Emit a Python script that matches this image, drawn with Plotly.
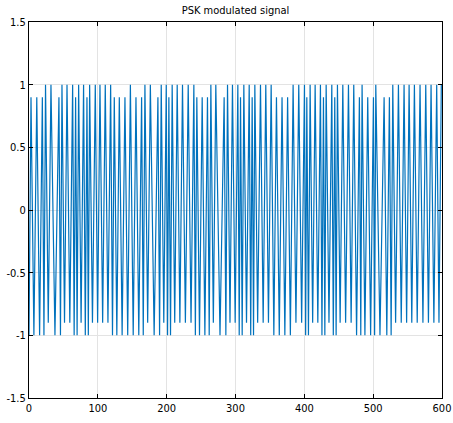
"""
PSK modulated signal - recriação do gráfico estilo MATLAB com Plotly.
"""

import plotly.graph_objects as go

# Picos superiores (posição, nível)
top_x = [2.9, 11.3, 19.4, 24.0, 31.9, 43.5, 47.9, 55.2, 63.4, 67.7, 72.1, 79.3,
         84.2, 88.1, 96.3, 103.1, 110.8, 118.6, 123.9, 131.2, 139.4, 147.3, 155.4,
         163.6, 168.4, 176.3, 187.3, 192.1, 199.4, 203.2, 208.0, 215.3, 223.0,
         231.3, 239.5, 243.8, 251.6, 259.3, 264.2, 271.4, 283.5, 288.4, 295.6,
         303.4, 307.3, 312.1, 319.9, 324.2, 328.1, 336.3, 344.0, 351.8, 359.5, 367.6,
         375.7, 383.7, 391.9, 400.2, 403.6, 408.4, 415.7, 423.4, 427.8, 431.7, 439.9,
         444.2, 448.1, 455.9, 464.1, 471.8, 480.0, 483.9, 492.1, 500.4, 503.8,
         515.9, 523.6, 528.5, 536.7, 544.9, 552.2, 559.9, 568.1, 576.4, 584.1, 592.3,
         599.0]
top_y = [0.9, 0.9, 0.9, 1, 1, 0.9, 1, 1, 1, 0.9, 1, 1,
         0.9, 1, 1, 1, 1, 1, 0.9, 0.9, 0.9, 1, 0.9,
         0.9, 1, 1, 0.9, 1, 1, 0.9, 1, 1, 1,
         1, 1, 0.9, 0.9, 0.9, 1, 1, 0.9, 1, 1,
         1, 0.9, 1, 1, 0.9, 1, 1, 1, 1, 0.9, 0.9,
         0.9, 1, 1, 1, 0.9, 1, 1, 1, 0.9, 1, 1,
         0.9, 1, 1, 1, 1, 0.9, 1, 0.9, 0.9, 1,
         0.9, 0.9, 1, 1, 1, 1, 1, 1, 1, 1, 1,
         1]

# Vales inferiores (posição, nível)
bottom_x = [0.0, 7.1, 15.4, 21.7, 28.0, 37.7, 45.7, 51.6, 59.3, 65.6, 69.9, 75.7,
            81.8, 86.2, 92.2, 99.7, 107.0, 114.7, 121.3, 127.6, 135.3, 143.4, 151.4,
            159.5, 166.0, 172.4, 181.8, 189.7, 195.8, 201.3, 205.6, 211.7, 219.2,
            227.2, 235.4, 241.7, 247.7, 255.5, 261.8, 267.8, 277.5, 286.0, 292.0,
            299.5, 305.4, 309.7, 316.0, 322.1, 326.2, 332.2, 340.2, 347.9, 355.7, 363.6,
            371.7, 379.7, 387.8, 396.1, 401.9, 406.0, 412.1, 419.6, 425.6, 429.8, 435.8,
            442.1, 446.2, 452.0, 460.0, 468.0, 475.9, 482.0, 488.0, 496.3, 502.1,
            509.9, 519.8, 526.1, 532.6, 540.8, 548.6, 556.1, 564.0, 572.3, 580.3, 588.2,
            595.6]
bottom_y = [-1, -1, -1, -1, -0.9, -1, -1, -0.9, -0.9, -1, -1, -0.9,
            -1, -1, -0.9, -0.9, -0.9, -0.9, -1, -1, -1, -1, -1,
            -1, -1, -0.9, -1, -1, -0.9, -1, -1, -0.9, -0.9,
            -0.9, -0.9, -1, -1, -1, -1, -0.9, -1, -1, -0.9,
            -0.9, -1, -1, -0.9, -1, -1, -0.9, -0.9, -0.9, -1, -1,
            -1, -1, -0.9, -0.9, -1, -1, -0.9, -0.9, -1, -1, -0.9,
            -1, -1, -0.9, -0.9, -0.9, -1, -1, -1, -1, -1,
            -1, -1, -1, -0.9, -0.9, -0.9, -0.9, -0.9, -0.9, -0.9, -0.9,
            -0.9]

x_ticks = [0, 100, 200, 300, 400, 500, 600]
y_ticks = [-1.5, -1, -0.5, 0, 0.5, 1, 1.5]
y_labels = ["-1.5", "-1", "-0.5", "0", "0.5", "1", "1.5"]

# Junta picos e vales em ordem de posição
pontos = sorted(zip(top_x + bottom_x, top_y + bottom_y))
sinal_x = [p[0] for p in pontos]
sinal_y = [p[1] for p in pontos]

fonte = "Liberation Sans Narrow, DejaVu Sans Condensed, Liberation Sans, sans-serif"

fig = go.Figure()
fig.add_trace(go.Scatter(
    x=sinal_x, y=sinal_y, mode="lines",
    line=dict(color="#0072BD", width=1.2),
    showlegend=False, hoverinfo="skip"
))

eixo = dict(
    showline=True, linecolor="black", linewidth=1, mirror="ticks",
    ticks="inside", ticklen=4, tickcolor="black", automargin=False,
    showgrid=True, gridcolor="#e3e3e3", gridwidth=1, zeroline=False,
    tickfont=dict(family=fonte, size=11, color="black"),
)

fig.update_xaxes(range=[0, 600], tickvals=x_ticks, **eixo)
fig.update_yaxes(range=[-1.5, 1.5], tickvals=y_ticks, ticktext=y_labels, **eixo)

fig.update_layout(
    width=453, height=423,
    margin=dict(l=29, r=11, t=22, b=25),
    paper_bgcolor="white", plot_bgcolor="white",
    title=dict(text="PSK modulated signal", xref="paper", x=0.5, xanchor="center",
               y=0.976, yanchor="middle",
               font=dict(family=fonte, size=11, color="black")),
)

# Remove a margem padrão do <body> para o gráfico ocupar a janela toda
fig.write_html("out.html", config={"displayModeBar": False},
               post_script="document.body.style.margin='0';")
